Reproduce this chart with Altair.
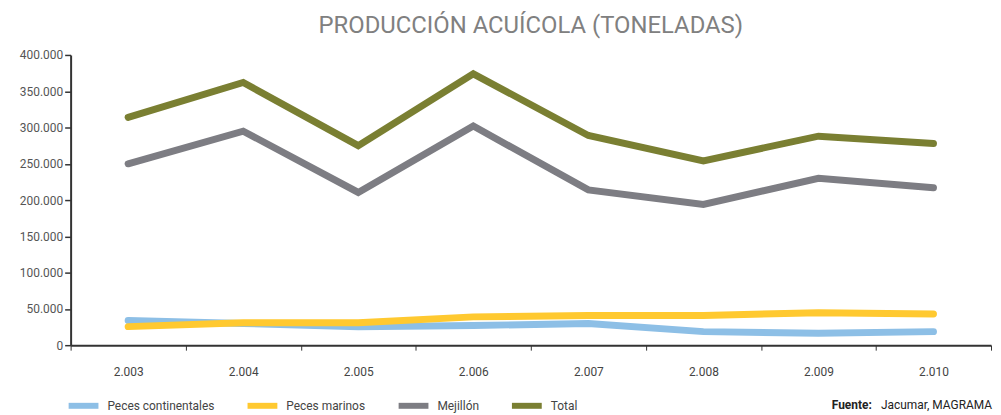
import altair as alt
import pandas as pd

years = ["2.003", "2.004", "2.005", "2.006", "2.007", "2.008", "2.009", "2.010"]
series_names = ["Peces continentales", "Peces marinos", "Mejillón", "Total"]
continentales = [34000, 30000, 25500, 27000, 30000, 18700, 16400, 18700]
marinos = [25600, 31000, 31000, 39000, 41000, 41000, 44700, 43000]
mejillon = [250000, 295000, 210500, 302000, 214000, 194000, 230000, 217000]
total = [314000, 362000, 275000, 374000, 289000, 254000, 288000, 278000]
colors = ["#8DBFE6", "#FFC930", "#7D7D83", "#7A7F32"]
y_ticks = [0, 50000, 100000, 150000, 200000, 250000, 300000, 350000, 400000]

rows = []
for name, vals in zip(series_names, [continentales, marinos, mejillon, total]):
    for yr, v in zip(years, vals):
        rows.append({"year": yr, "serie": name, "value": v, "order": series_names.index(name)})
df = pd.DataFrame(rows)

FONT = "Roboto"

lines = alt.Chart(df).mark_line(strokeWidth=7, strokeCap="round", strokeJoin="miter").encode(
    x=alt.X("year:N", sort=years, bandPosition=0.5,
            scale=alt.Scale(type="band", paddingInner=0, paddingOuter=0),
            axis=alt.Axis(title=None, tickBand="extent", labelAngle=0, domainColor="#333333",
                          domainWidth=2, tickColor="#333333", tickSize=5, tickWidth=1,
                          labelPadding=17, labelFont=FONT, labelFontSize=12,
                          labelColor="#444444")),
    y=alt.Y("value:Q", scale=alt.Scale(domain=[0, 400000], nice=False),
            axis=alt.Axis(title=None, values=y_ticks, grid=False,
                          labelExpr="replace(format(datum.value, ','), ',', '.')",
                          domainColor="#333333", domainWidth=2, tickColor="#333333",
                          tickSize=6, tickWidth=1.5, labelPadding=2, labelFont=FONT,
                          labelFontSize=12, labelColor="#555555")),
    color=alt.Color("serie:N", sort=series_names,
                    scale=alt.Scale(domain=series_names, range=colors),
                    legend=alt.Legend(title=None, orient="none", legendX=-5, legendY=335,
                                      direction="horizontal", symbolType="stroke",
                                      symbolStrokeWidth=6, symbolSize=900, padding=0,
                                      labelFont=FONT, labelFontSize=12, labelColor="#444444",
                                      labelOffset=6, columnPadding=21)),
    order=alt.Order("order:Q"),
    detail="serie:N",
)

src_bold = alt.Chart(pd.DataFrame({"t": ["Fuente:"]})).mark_text(
    align="right", baseline="middle", font=FONT, fontSize=12, fontWeight="bold", color="#222222"
).encode(x=alt.value(806), y=alt.value(352), text="t:N")

src_norm = alt.Chart(pd.DataFrame({"t": ["Jacumar, MAGRAMA"]})).mark_text(
    align="right", baseline="middle", font=FONT, fontSize=12, color="#222222"
).encode(x=alt.value(927), y=alt.value(352), text="t:N")

chart = alt.layer(lines, src_bold, src_norm).properties(
    width=926, height=292,
    title=alt.TitleParams(text="PRODUCCIÓN ACUÍCOLA (TONELADAS)", fontSize=24, font=FONT,
                          fontWeight="normal", color="#808080", anchor="middle", offset=11),
    autosize=alt.AutoSizeParams(type="none"),
    padding={"left": 63, "top": 46, "right": 2, "bottom": 67},
).configure_view(stroke=None)

chart.save("out.html", embed_options={"renderer": "svg", "actions": False})
